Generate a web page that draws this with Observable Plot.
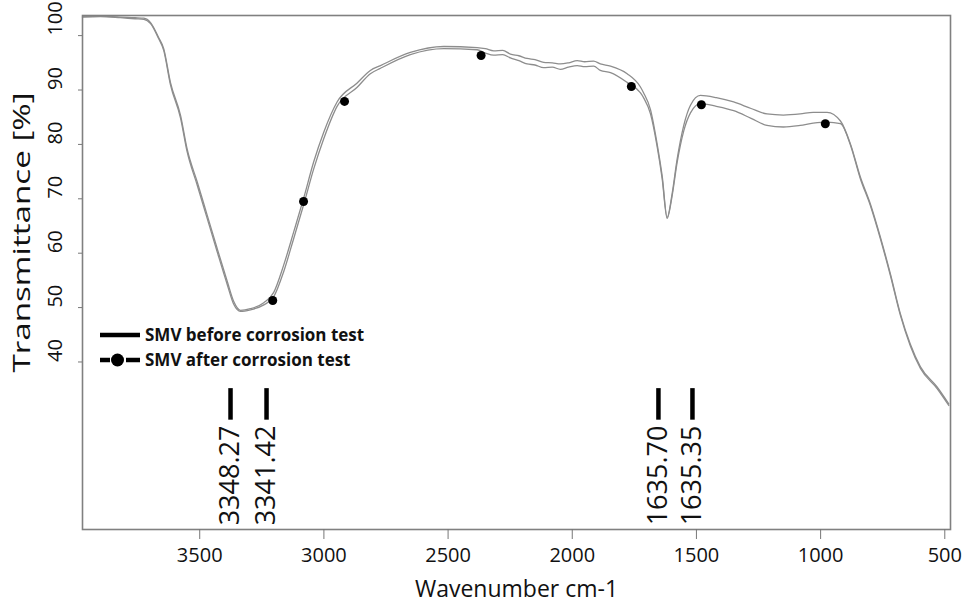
<!DOCTYPE html>
<html>
<head>
<meta charset="utf-8">
<script src="https://cdn.jsdelivr.net/npm/d3@7"></script>
<script src="https://cdn.jsdelivr.net/npm/@observablehq/plot@0.6"></script>
<style>
  html, body { margin: 0; padding: 0; background: #fff; }
  #chart { position: relative; width: 969px; height: 603px; }
</style>
</head>
<body>
<div id="chart"></div>
<script>
// ---- data ----
const wavenumbers = [3972, 3900, 3820, 3760, 3725, 3698, 3666, 3645, 3618, 3577, 3551, 3510, 3470, 3430, 3389, 3363, 3336, 3296, 3242, 3202, 3162, 3121, 3081, 3041, 3001, 2947, 2866, 2813, 2772, 2652, 2517, 2383, 2350, 2316, 2280, 2249, 2215, 2182, 2150, 2115, 2080, 2048, 2015, 1980, 1950, 1914, 1887, 1846, 1779, 1726, 1713, 1685, 1659, 1638, 1618, 1598, 1578, 1551, 1524, 1484, 1420, 1350, 1280, 1216, 1150, 1082, 1030, 974, 920, 880, 840, 800, 759, 719, 679, 639, 598, 531, 484];
const beforeT = [103.5, 103.6, 103.4, 103.3, 103.2, 102.4, 99.7, 97.6, 91.4, 85.3, 79.2, 73.1, 67.0, 60.9, 54.8, 51.1, 49.5, 49.8, 50.9, 52.8, 57.8, 64.0, 70.2, 76.8, 82.2, 87.8, 91.3, 93.6, 94.5, 96.9, 98.0, 97.8, 97.6, 97.2, 97.3, 96.6, 96.3, 95.8, 95.6, 95.1, 95.0, 94.8, 95.0, 95.4, 95.2, 95.3, 94.8, 94.4, 93.0, 90.6, 89.5, 86.4, 80.3, 74.2, 66.6, 70.9, 77.2, 83.5, 87.2, 89.0, 88.6, 87.8, 86.6, 85.6, 85.4, 85.6, 85.9, 85.9, 84.3, 80.1, 74.0, 69.1, 62.9, 56.2, 48.9, 43.3, 39.1, 35.4, 32.3];
const afterT = [103.4, 103.5, 103.3, 103.1, 103.0, 102.2, 99.5, 97.3, 91.0, 84.8, 78.7, 72.5, 66.4, 60.3, 54.2, 50.6, 49.3, 49.6, 50.5, 52.0, 56.6, 62.8, 69.0, 75.5, 81.0, 87.0, 90.5, 93.0, 94.0, 96.5, 97.6, 97.4, 96.8, 96.4, 96.5, 95.9, 95.4, 94.8, 94.6, 94.1, 94.2, 93.8, 94.2, 94.5, 94.3, 94.4, 93.6, 93.2, 91.4, 89.5, 88.6, 85.6, 79.8, 73.7, 66.4, 70.5, 76.6, 82.5, 85.8, 87.5, 87.0, 86.2, 84.8, 83.5, 83.2, 83.5, 83.9, 84.1, 83.8, 79.9, 73.7, 68.8, 62.6, 55.9, 48.6, 43.0, 38.8, 35.1, 32.0];
const markerW = [3206, 3082, 2917, 2367, 1762, 1480, 981];
const markerT = [51.3, 69.5, 87.9, 96.35, 90.65, 87.3, 83.8];
const peakLabels = ["3348.27", "3341.42", "1635.70", "1635.35"];
const peakMarkW = [3376, 3231, 1653, 1516];
const xTicks = [3500, 3000, 2500, 2000, 1500, 1000, 500];
const yTicks = [40, 50, 60, 70, 80, 90, 100];
const seriesNames = ["SMV before corrosion test", "SMV after corrosion test"];
const xTitle = "Wavenumber cm-1";
const yTitle = "Transmittance [%]";

// ---- build tables ----
const before = wavenumbers.map((w, i) => ({w, t: beforeT[i]}));
const after = wavenumbers.map((w, i) => ({w, t: afterT[i]}));
const markers = markerW.map((w, i) => ({w, t: markerT[i]}));
const peaks = peakLabels.map((label, i) => ({label, w: peakMarkW[i]}));

const lineColor = "#8d8d8d";

const chart = Plot.plot({
  width: 969,
  height: 603,
  marginLeft: 82,
  marginRight: 19,
  marginTop: 15,
  marginBottom: 74,
  style: {fontFamily: "'Open Sans', sans-serif", background: "#fff", color: "#111", overflow: "visible"},
  x: {domain: [3972, 477]},
  y: {domain: [9.2, 103.7]},
  marks: [
    Plot.line(before, {x: "w", y: "t", stroke: lineColor, strokeWidth: 1.3, curve: "monotone-x"}),
    Plot.line(after, {x: "w", y: "t", stroke: lineColor, strokeWidth: 1.3, curve: "monotone-x"}),
    Plot.dot(markers, {x: "w", y: "t", r: 4.5, fill: "#000", stroke: "none"}),
    Plot.ruleX(peaks, {x: "w", y1: 29.3, y2: 35.1, stroke: "#000", strokeWidth: 4.5}),
    Plot.text(peaks, {x: "w", y: 28.3, text: "label", rotate: -90, textAnchor: "end", lineAnchor: "middle", fontSize: 27, fill: "#111"}),
    Plot.frame({stroke: "#808080", strokeWidth: 1.6}),
    Plot.axisX({ticks: xTicks, tickSize: 10, tickPadding: 8, fontSize: 20, label: null, stroke: "#777", fill: "#111", tickFormat: d => String(d)}),
    Plot.axisY({ticks: yTicks, tickSize: 4, fill: "none", stroke: "#777", label: null}),
    Plot.text(yTicks, {y: d => d, text: d => String(d), frameAnchor: "left", dx: -27, rotate: -90, lineAnchor: "middle", fontSize: 20, fill: "#111"}),
    Plot.text([yTitle], {text: d => d, frameAnchor: "left", dx: -60, dy: 100, rotate: -90, textAnchor: "start", lineAnchor: "middle", fontSize: 23, fill: "#111"}),
    Plot.text([xTitle], {text: d => d, frameAnchor: "bottom", dy: 67, lineAnchor: "bottom", fontSize: 23, fill: "#111"})
  ]
});

document.getElementById("chart").appendChild(chart);

// stretch the titles to the reference lengths (anchored at start / middle)
d3.select(chart).selectAll("text").filter(function() { return this.textContent === yTitle; })
  .attr("textLength", 280).attr("lengthAdjust", "spacingAndGlyphs");

// legend inside the plot area
const svg = d3.select(chart);
const leg = svg.append("g").attr("transform", "translate(100,335)")
  .attr("font-family", "'Open Sans', sans-serif").attr("font-weight", "bold").attr("font-size", 17)
  .attr("fill", "#111").attr("text-anchor", "start");
// row 1: solid line
leg.append("line").attr("x1", 0).attr("x2", 40).attr("y1", 0).attr("y2", 0).attr("stroke", "#000").attr("stroke-width", 4.5);
leg.append("text").attr("x", 45).attr("y", 0).attr("dy", "0.35em").text(seriesNames[0]);
// row 2: dashed line with dot
const r2 = leg.append("g").attr("transform", "translate(0,25)");
r2.append("line").attr("x1", 0).attr("x2", 10).attr("y1", 0).attr("y2", 0).attr("stroke", "#000").attr("stroke-width", 4.5);
r2.append("line").attr("x1", 26).attr("x2", 40).attr("y1", 0).attr("y2", 0).attr("stroke", "#000").attr("stroke-width", 4.5);
r2.append("circle").attr("cx", 17.5).attr("cy", 0).attr("r", 6.5).attr("fill", "#000");
r2.append("text").attr("x", 45).attr("y", 0).attr("dy", "0.35em").text(seriesNames[1]);
</script>
</body>
</html>
